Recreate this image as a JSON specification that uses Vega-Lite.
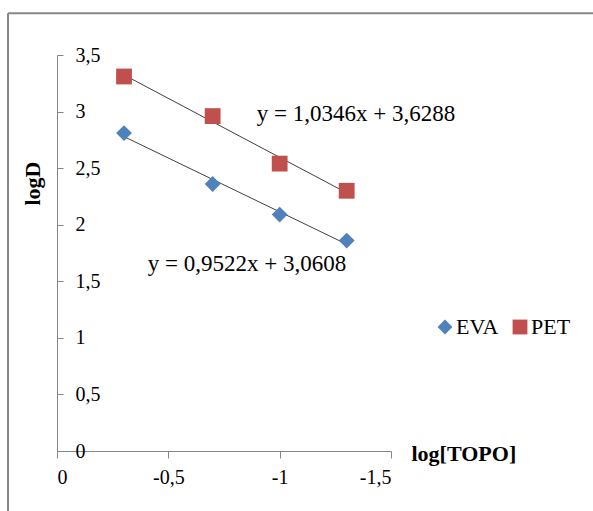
{
  "$schema": "https://vega.github.io/schema/vega-lite/v6.json",
  "width": 334,
  "height": 396,
  "autosize": "none",
  "padding": {"left": 57, "top": 55, "right": 202, "bottom": 60},
  "background": "white",
  "config": {
    "view": {"stroke": null},
    "font": "Liberation Serif",
    "axis": {"grid": false, "domainColor": "#868686", "tickColor": "#868686", "labelColor": "black", "labelFont": "Liberation Serif", "labelFontSize": 20, "titleFont": "Liberation Serif", "titleFontSize": 22, "titleFontWeight": "bold", "titleColor": "black"}
  },
  "datasets": {
    "pts": [
      {"series": "EVA", "logTOPO": -0.301, "logD": 2.81},
      {"series": "EVA", "logTOPO": -0.699, "logD": 2.36},
      {"series": "EVA", "logTOPO": -1.0, "logD": 2.09},
      {"series": "EVA", "logTOPO": -1.301, "logD": 1.86},
      {"series": "PET", "logTOPO": -0.301, "logD": 3.31},
      {"series": "PET", "logTOPO": -0.699, "logD": 2.96},
      {"series": "PET", "logTOPO": -1.0, "logD": 2.54},
      {"series": "PET", "logTOPO": -1.301, "logD": 2.30}
    ]
  },
  "layer": [
    {
      "data": {"values": [{}]},
      "mark": {"type": "rule", "color": "#878787", "strokeWidth": 2, "clip": false},
      "encoding": {
        "x": {"datum": 0.22, "type": "quantitative", "scale": {"domain": [-1.5, 0], "reverse": true, "nice": false, "zero": false}},
        "y": {"datum": 3.87, "type": "quantitative", "scale": {"domain": [0, 3.5], "nice": false}},
        "x2": {"datum": -2.5}
      }
    },
    {
      "data": {"values": [{}]},
      "mark": {"type": "rule", "color": "#878787", "strokeWidth": 2, "clip": false},
      "encoding": {
        "x": {"datum": 0.22, "type": "quantitative"},
        "y": {"datum": 3.87, "type": "quantitative"},
        "y2": {"datum": -0.7}
      }
    },
    {
      "data": {"name": "pts"},
      "transform": [{"regression": "logD", "on": "logTOPO", "groupby": ["series"]}],
      "mark": {"type": "line", "color": "#404040", "strokeWidth": 1},
      "encoding": {
        "x": {"field": "logTOPO", "type": "quantitative"},
        "y": {"field": "logD", "type": "quantitative"},
        "detail": {"field": "series"}
      }
    },
    {
      "data": {"name": "pts"},
      "mark": {"type": "point", "filled": true, "opacity": 1, "size": 250},
      "encoding": {
        "x": {
          "field": "logTOPO", "type": "quantitative",
          "axis": {"values": [0, -0.5, -1, -1.5], "labelExpr": "replace('' + datum.value, '.', ',')", "tickSize": 7, "labelPadding": 9, "title": "log[TOPO]", "titleX": 354, "titleY": 2, "titleAlign": "left", "titleBaseline": "middle", "titleAngle": 0}
        },
        "y": {
          "field": "logD", "type": "quantitative",
          "axis": {"orient": "right", "offset": -334, "values": [0, 0.5, 1, 1.5, 2, 2.5, 3, 3.5], "labelExpr": "replace('' + datum.value, '.', ',')", "tickSize": 6, "labelPadding": 12, "title": "logD", "titleX": -25, "titleY": 128, "titleAngle": 270, "titleAlign": "center", "titleBaseline": "middle"}
        },
        "color": {
          "field": "series", "type": "nominal",
          "scale": {"domain": ["EVA", "PET"], "range": ["#4F81BD", "#C0504D"]},
          "legend": {"orient": "none", "legendX": 377, "legendY": 261, "direction": "horizontal", "title": null, "labelFont": "Liberation Serif", "labelFontSize": 22, "labelColor": "black", "symbolSize": 220, "labelOffset": 0, "columnPadding": 10, "padding": 0}
        },
        "shape": {
          "field": "series", "type": "nominal",
          "scale": {"domain": ["EVA", "PET"], "range": ["diamond", "square"]}
        }
      }
    },
    {
      "data": {"values": [{}]},
      "mark": {"type": "text", "align": "left", "baseline": "middle", "fontSize": 23, "font": "Liberation Serif", "color": "black"},
      "encoding": {
        "x": {"datum": -0.897, "type": "quantitative"},
        "y": {"datum": 2.98, "type": "quantitative"},
        "text": {"value": "y = 1,0346x + 3,6288"}
      }
    },
    {
      "data": {"values": [{}]},
      "mark": {"type": "text", "align": "left", "baseline": "middle", "fontSize": 23, "font": "Liberation Serif", "color": "black"},
      "encoding": {
        "x": {"datum": -0.408, "type": "quantitative"},
        "y": {"datum": 1.65, "type": "quantitative"},
        "text": {"value": "y = 0,9522x + 3,0608"}
      }
    }
  ]
}
